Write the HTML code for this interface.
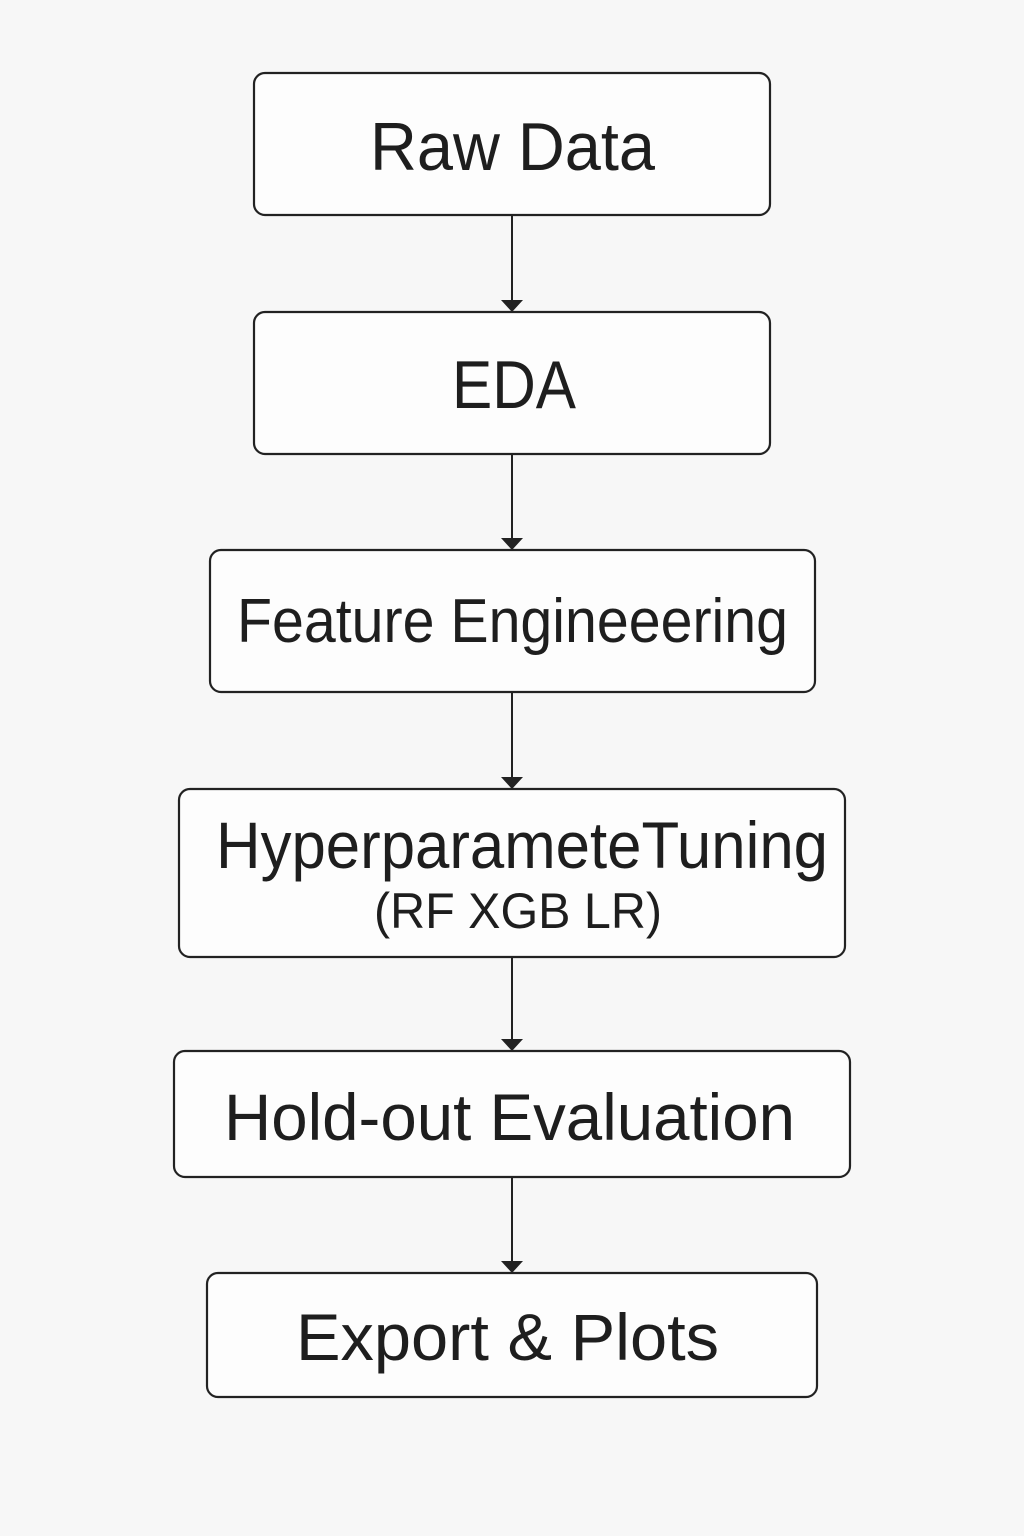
<!DOCTYPE html>
<html><head><meta charset="utf-8"><style>
html,body{margin:0;padding:0;background:#f7f7f7;}
svg{display:block}
text{font-family:"Liberation Sans",sans-serif;fill:#1e1e1e;}
</style></head><body>
<svg width="1024" height="1536" viewBox="0 0 1024 1536" xmlns="http://www.w3.org/2000/svg">
<rect width="1024" height="1536" fill="#f7f7f7"/>
<g fill="#fdfdfd" stroke="#222" stroke-width="2.2">
<rect x="254" y="73" width="516" height="142" rx="11"/>
<rect x="254" y="312" width="516" height="142" rx="11"/>
<rect x="210" y="550" width="605" height="142" rx="11"/>
<rect x="179" y="789" width="666" height="168" rx="11"/>
<rect x="174" y="1051" width="676" height="126" rx="11"/>
<rect x="207" y="1273" width="610" height="124" rx="11"/>
</g>
<g stroke="#222" stroke-width="2">
<line x1="512" y1="215" x2="512" y2="302"/>
<line x1="512" y1="454" x2="512" y2="540"/>
<line x1="512" y1="692" x2="512" y2="779"/>
<line x1="512" y1="957" x2="512" y2="1041"/>
<line x1="512" y1="1177" x2="512" y2="1263"/>
</g>
<g fill="#222">
<polygon points="501,300 523,300 512,312"/>
<polygon points="501,538 523,538 512,550"/>
<polygon points="501,777 523,777 512,789"/>
<polygon points="501,1039 523,1039 512,1051"/>
<polygon points="501,1261 523,1261 512,1273"/>
</g>
<text x="370" y="170" font-size="68" textLength="285" lengthAdjust="spacingAndGlyphs">Raw Data</text>
<text x="452" y="408" font-size="68" textLength="124" lengthAdjust="spacingAndGlyphs">EDA</text>
<text x="237" y="642" font-size="62" textLength="551" lengthAdjust="spacingAndGlyphs">Feature Engineeering</text>
<text x="216" y="868" font-size="66" textLength="612" lengthAdjust="spacingAndGlyphs">HyperparameteTuning</text>
<text x="374" y="928" font-size="50" textLength="288" lengthAdjust="spacingAndGlyphs">(RF  XGB  LR)</text>
<text x="224" y="1140" font-size="66" textLength="571" lengthAdjust="spacingAndGlyphs">Hold-out  Evaluation</text>
<text x="296" y="1360" font-size="66" textLength="423" lengthAdjust="spacingAndGlyphs">Export  &amp;  Plots</text>
</svg>
</body></html>
